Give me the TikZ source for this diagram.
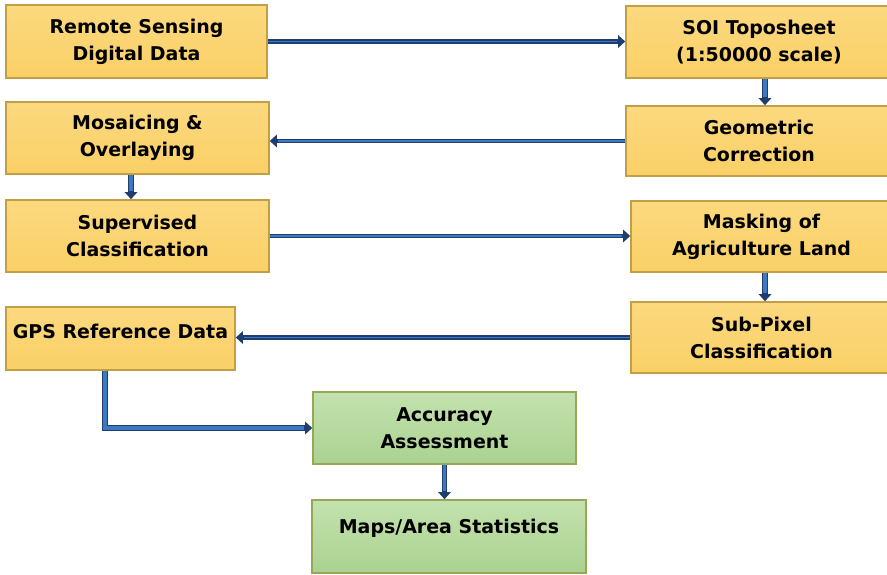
\documentclass[tikz,border=0pt]{standalone}
\usepackage{fontspec}
\setmainfont{DejaVu Sans}
\usetikzlibrary{arrows.meta}

\definecolor{ylwtop}{HTML}{FCD97F}
\definecolor{ylwbot}{HTML}{FAD066}
\definecolor{ylwedge}{HTML}{C29E45}
\definecolor{grntop}{HTML}{C3E2AE}
\definecolor{grnbot}{HTML}{ABD291}
\definecolor{grnedge}{HTML}{94A855}
\definecolor{flowedge}{HTML}{1F3E6E}
\definecolor{flowfill}{HTML}{3D79C2}

\begin{document}
\begin{tikzpicture}[
    font=\bfseries\fontsize{10.8}{15.3}\selectfont,
    stage/.style={draw=ylwedge, line width=0.9pt, top color=ylwtop, bottom color=ylwbot,
                  align=center, inner sep=0pt},
    result/.style={draw=grnedge, line width=0.9pt, top color=grntop, bottom color=grnbot,
                   align=center, inner sep=0pt},
    flow/.style={draw=flowedge, line width=2.3pt, -{Triangle[length=4pt,width=7pt]},
                 postaction={draw=flowfill, line width=1.1pt, -, shorten >=4.5pt}},
    flowv/.style={flow, line width=3.4pt,
                  postaction={draw=flowfill, line width=2pt, -, shorten >=4.5pt}}
  ]
  \useasboundingbox (0,0) rectangle (17.74,-11.48);

  % left column
  \node[stage, minimum width=5.22cm, minimum height=1.46cm] (rsd) at (2.73,-0.83)
    {Remote Sensing\\Digital Data};
  \node[stage, minimum width=5.26cm, minimum height=1.44cm] (mos) at (2.75,-2.76)
    {Mosaicing \&\\Overlaying};
  \node[stage, minimum width=5.26cm, minimum height=1.44cm] (sup) at (2.75,-4.72)
    {Supervised\\Classification};
  \node[stage, minimum width=4.58cm, minimum height=1.26cm, text depth=0.3cm] (gps) at (2.41,-6.77)
    {GPS Reference Data};

  % right column
  \node[stage, minimum width=5.32cm, minimum height=1.44cm] (soi) at (15.18,-0.84)
    {SOI Toposheet\\(1:50000 scale)};
  \node[stage, minimum width=5.32cm, minimum height=1.40cm] (geo) at (15.18,-2.82)
    {Geometric\\Correction};
  \node[stage, minimum width=5.22cm, minimum height=1.42cm] (mask) at (15.23,-4.73)
    {Masking of\\Agriculture Land};
  \node[stage, minimum width=5.22cm, minimum height=1.42cm] (sub) at (15.23,-6.75)
    {Sub-Pixel\\Classification};

  % results
  \node[result, minimum width=5.26cm, minimum height=1.44cm] (acc) at (8.89,-8.56)
    {Accuracy\\Assessment};
  \node[result, minimum width=5.48cm, minimum height=1.46cm, text depth=0.4cm] (maps) at (8.98,-10.73)
    {Maps/Area Statistics};

  \draw[flow] (rsd.east) -- (rsd.east -| soi.west);
  \draw[flowv] ([xshift=0.12cm]soi.south) -- ([xshift=0.12cm]geo.north);
  \draw[flow] (geo.west) -- (geo.west -| mos.east);
  \draw[flowv] ([xshift=-0.13cm]mos.south) -- ([xshift=-0.13cm]sup.north);
  \draw[flow] (sup.east) -- (sup.east -| mask.west);
  \draw[flowv] ([xshift=0.07cm]mask.south) -- ([xshift=0.07cm]sub.north);
  \draw[flow] (sub.west) -- (sub.west -| gps.east);
  \draw[flowv] ([xshift=-0.31cm]gps.south) |- (acc.west);
  \draw[flowv] (acc.south) -- (maps.north -| acc.south);
\end{tikzpicture}
\end{document}
